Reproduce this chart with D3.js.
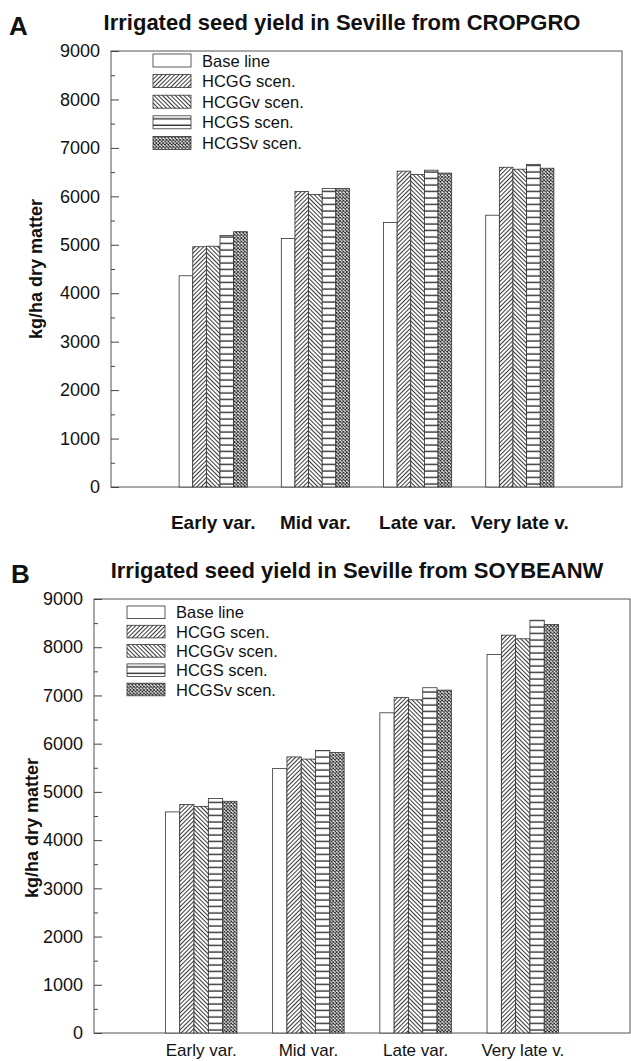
<!DOCTYPE html>
<html>
<head>
<meta charset="utf-8">
<script src="https://cdn.jsdelivr.net/npm/d3@7"></script>
<style>
  body { margin: 0; background: #fff; }
  svg { display: block; font-family: "Liberation Sans", Arial, sans-serif; }
</style>
</head>
<body>
<div id="chart"></div>
<script>
// categories and series names
var varieties = ["Early var.", "Mid var.", "Late var.", "Very late v."];
var scenarios = ["Base line", "HCGG scen.", "HCGGv scen.", "HCGS scen.", "HCGSv scen."];
var yTicks = [0, 1000, 2000, 3000, 4000, 5000, 6000, 7000, 8000, 9000];

// panel A: CROPGRO (kg/ha dry matter)
var cropgroBase  = [4360, 5130, 5460, 5610];
var cropgroHCGG  = [4960, 6100, 6520, 6600];
var cropgroHCGGv = [4970, 6040, 6450, 6560];
var cropgroHCGS  = [5190, 6160, 6540, 6660];
var cropgroHCGSv = [5270, 6160, 6480, 6580];

// panel B: SOYBEANW (kg/ha dry matter)
var soyBase  = [4585, 5485, 6640, 7850];
var soyHCGG  = [4740, 5725, 6960, 8250];
var soyHCGGv = [4700, 5680, 6910, 8175];
var soyHCGS  = [4865, 5860, 7160, 8560];
var soyHCGSv = [4805, 5815, 7110, 8470];

var patternIds = ["none", "hcgg", "hcggv", "hcgs", "hcgsv"];

var svg = d3.select("#chart").append("svg")
	.attr("width", 631)
	.attr("height", 1061);

// hatch patterns
var defs = svg.append("defs");

function diagPattern(id, angle) {
	var p = defs.append("pattern")
		.attr("id", id)
		.attr("patternUnits", "userSpaceOnUse")
		.attr("width", 3)
		.attr("height", 3)
		.attr("patternTransform", "rotate(" + angle + ")");
	p.append("rect").attr("width", 3).attr("height", 3).attr("fill", "#fff");
	p.append("line")
		.attr("x1", 0.5).attr("y1", 0).attr("x2", 0.5).attr("y2", 3)
		.attr("stroke", "#222").attr("stroke-width", 0.9);
}
diagPattern("hcgg", 45);
diagPattern("hcggv", -45);

var hp = defs.append("pattern")
	.attr("id", "hcgs")
	.attr("patternUnits", "userSpaceOnUse")
	.attr("width", 6)
	.attr("height", 6.5);
hp.append("rect").attr("width", 6).attr("height", 6.5).attr("fill", "#fff");
hp.append("line")
	.attr("x1", 0).attr("y1", 3).attr("x2", 6).attr("y2", 3)
	.attr("stroke", "#222").attr("stroke-width", 1.3);

var cp = defs.append("pattern")
	.attr("id", "hcgsv")
	.attr("patternUnits", "userSpaceOnUse")
	.attr("width", 3.4)
	.attr("height", 3.4);
cp.append("rect").attr("width", 3.4).attr("height", 3.4).attr("fill", "#fff");
cp.append("path")
	.attr("d", "M0,0L3.4,3.4M3.4,0L0,3.4")
	.attr("stroke", "#222").attr("stroke-width", 0.9);

function fillFor(j) {
	return j === 0 ? "#fff" : "url(#" + patternIds[j] + ")";
}

function drawPanel(cfg) {
	var g = svg.append("g");

	var x = d3.scaleLinear()
		.domain([0, varieties.length + 1])
		.range([cfg.left, cfg.right]);

	var y = d3.scaleLinear()
		.domain([0, 9000])
		.range([cfg.bottom, cfg.top]);

	var groupW = x(0.667) - x(0);
	var sub = d3.scaleBand()
		.domain(scenarios)
		.range([-groupW / 2, groupW / 2]);

	// frame
	g.append("rect")
		.attr("x", cfg.left)
		.attr("y", cfg.top)
		.attr("width", cfg.right - cfg.left)
		.attr("height", cfg.bottom - cfg.top)
		.attr("fill", "none")
		.attr("stroke", "#555")
		.attr("stroke-width", 1);

	// bars
	cfg.series.forEach(function (vals, j) {
		g.selectAll(null)
			.data(vals)
			.enter()
			.append("rect")
			.attr("x", function (d, i) { return x(i + 1) + sub(scenarios[j]); })
			.attr("y", function (d) { return y(d); })
			.attr("width", sub.bandwidth())
			.attr("height", function (d) { return y(0) - y(d); })
			.attr("fill", fillFor(j))
			.attr("stroke", "#333")
			.attr("stroke-width", 0.8);
	});

	// y axis, ticks pointing inward
	var yAxis = d3.axisLeft(y)
		.tickValues(yTicks)
		.tickSize(-8)
		.tickPadding(11)
		.tickFormat(d3.format("d"));
	var ax = g.append("g")
		.attr("transform", "translate(" + cfg.left + ",0)")
		.call(yAxis);
	ax.select(".domain").remove();
	ax.selectAll("line").attr("stroke", "#444");
	ax.selectAll("text")
		.attr("font-size", 18)
		.attr("font-family", "Liberation Sans, Arial, sans-serif")
		.attr("fill", "#111");

	var minor = d3.axisLeft(y)
		.tickValues(d3.range(500, 9000, 1000))
		.tickSize(-4)
		.tickFormat("");
	var mx = g.append("g")
		.attr("transform", "translate(" + cfg.left + ",0)")
		.call(minor);
	mx.select(".domain").remove();
	mx.selectAll("line").attr("stroke", "#444");

	// x labels
	g.selectAll(null)
		.data(varieties)
		.enter()
		.append("text")
		.attr("x", function (d, i) { return x(i + 1); })
		.attr("y", cfg.labelY)
		.attr("text-anchor", "middle")
		.attr("font-size", cfg.labelSize)
		.attr("font-weight", cfg.labelWeight)
		.attr("fill", "#111")
		.text(function (d) { return d; });

	// y title
	g.append("text")
		.attr("transform", "translate(" + cfg.yTitleX + "," + cfg.yTitleY + ") rotate(-90)")
		.attr("text-anchor", "middle")
		.attr("font-size", 18)
		.attr("font-weight", "bold")
		.attr("fill", "#111")
		.text("kg/ha dry matter");

	// panel letter and title
	g.append("text")
		.attr("x", cfg.letterX)
		.attr("y", cfg.letterY)
		.attr("font-size", 26)
		.attr("font-weight", "bold")
		.attr("fill", "#111")
		.text(cfg.letter);

	g.append("text")
		.attr("x", cfg.titleX)
		.attr("y", cfg.titleY)
		.attr("text-anchor", "middle")
		.attr("font-size", 22)
		.attr("font-weight", "bold")
		.attr("fill", "#111")
		.text(cfg.title);

	// legend
	var leg = g.selectAll("g.legend")
		.data(scenarios)
		.enter()
		.append("g")
		.attr("class", "legend")
		.attr("transform", function (d, i) {
			return "translate(" + cfg.legX + "," + (cfg.legY + i * cfg.legStep) + ")";
		});
	leg.append("rect")
		.attr("width", 38)
		.attr("height", cfg.legBox)
		.attr("fill", function (d, i) { return fillFor(i); })
		.attr("stroke", "#333")
		.attr("stroke-width", 0.8);
	leg.append("text")
		.attr("x", 49)
		.attr("y", cfg.legBox / 2 + 6)
		.attr("font-size", 16.5)
		.attr("fill", "#111")
		.text(function (d) { return d; });
}

drawPanel({
	letter: "A",
	title: "Irrigated seed yield in Seville from CROPGRO",
	series: [cropgroBase, cropgroHCGG, cropgroHCGGv, cropgroHCGS, cropgroHCGSv],
	left: 111, right: 622, top: 51, bottom: 487,
	labelY: 529, labelSize: 19, labelWeight: "bold",
	yTitleX: 42, yTitleY: 269,
	letterX: 9, letterY: 35,
	titleX: 342, titleY: 30,
	legX: 153, legY: 54, legStep: 20.6, legBox: 13
});

drawPanel({
	letter: "B",
	title: "Irrigated seed yield in Seville from SOYBEANW",
	series: [soyBase, soyHCGG, soyHCGGv, soyHCGS, soyHCGSv],
	left: 94, right: 630, top: 599, bottom: 1033,
	labelY: 1056, labelSize: 17, labelWeight: "normal",
	yTitleX: 38, yTitleY: 828,
	letterX: 11, letterY: 583,
	titleX: 357, titleY: 578,
	legX: 127, legY: 606, legStep: 19.3, legBox: 12.6
});
</script>
</body>
</html>
